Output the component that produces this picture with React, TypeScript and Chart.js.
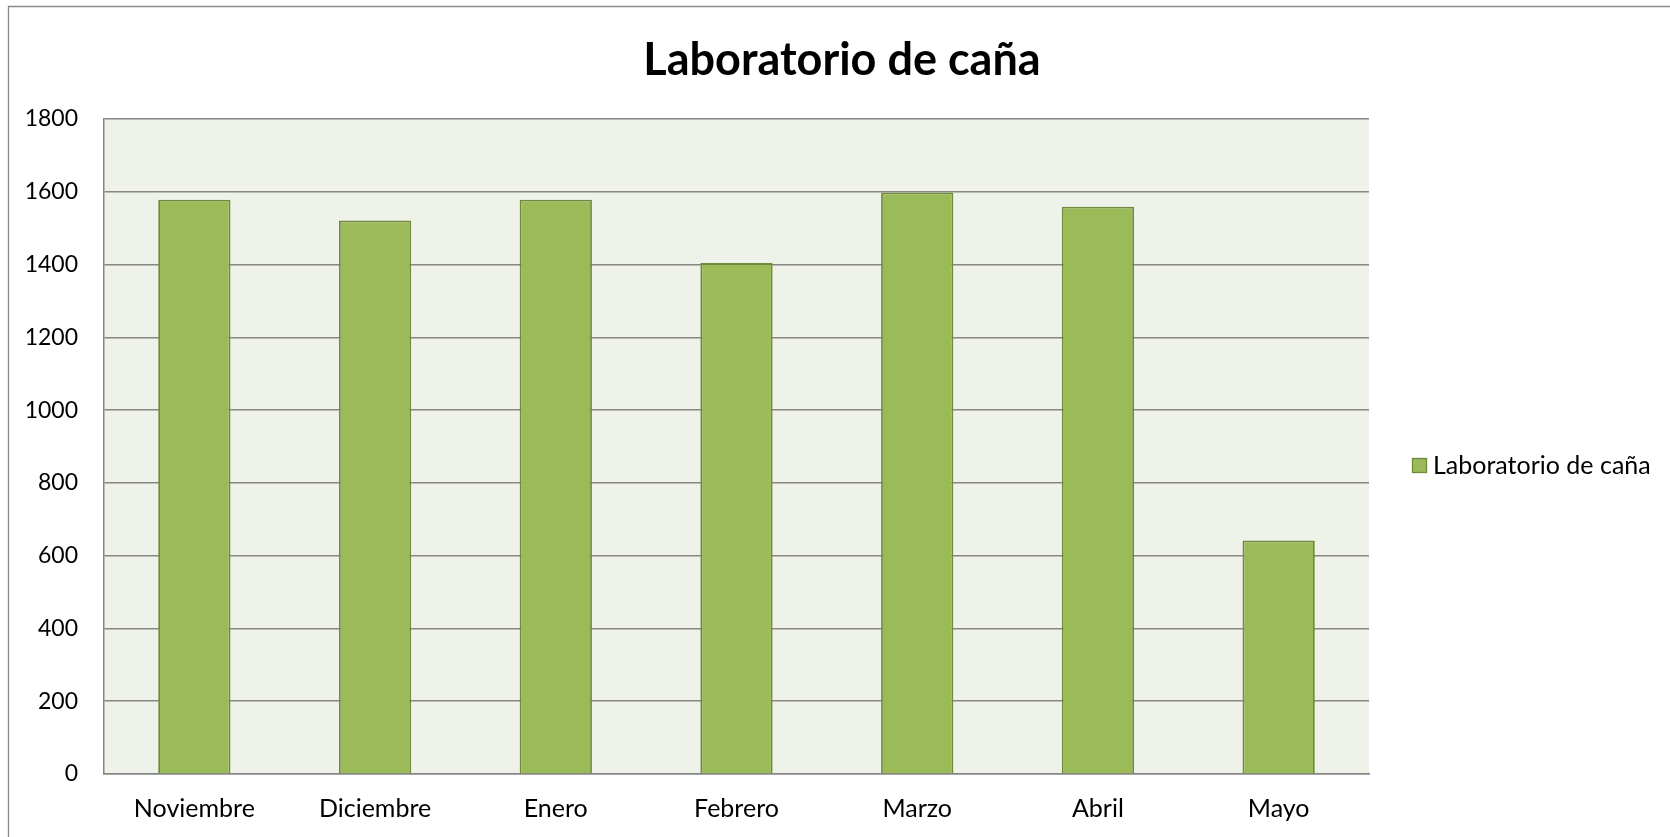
import React, { useEffect, useRef } from "react";
import { Chart, registerables } from "chart.js";

Chart.register(...registerables);

const TITLE = "Laboratorio de caña";
const SERIES_NAME = "Laboratorio de caña";
const categories = ["Noviembre", "Diciembre", "Enero", "Febrero", "Marzo", "Abril", "Mayo"];
const values = [1578, 1521, 1578, 1404, 1598, 1559, 642];
const yMin = 0;
const yMax = 1800;
const yStep = 200;

const FONT = "Lato, 'Noto Sans', sans-serif";
const BAR_FILL = "#9bbb59";
const BAR_BORDER = "#6f8a3c";
const PLOT_BG = "#eff2e9";
const GRID = "#868686";

const W = 1670;
const H = 837;
const PLOT_LEFT = 104;
const PLOT_TOP = 119;
const PLOT_RIGHT = 1369;
const PLOT_BOTTOM = 774;

const decorPlugin = {
  id: "decor",
  beforeDraw(chart: any) {
    const ctx = chart.ctx;
    const a = chart.chartArea;
    ctx.save();
    ctx.fillStyle = "#ffffff";
    ctx.fillRect(0, 0, chart.width, chart.height);
    ctx.strokeStyle = "#8a8a8a";
    ctx.lineWidth = 1.3;
    ctx.beginPath();
    ctx.moveTo(8.5, chart.height + 10);
    ctx.lineTo(8.5, 6.5);
    ctx.lineTo(chart.width + 10, 6.5);
    ctx.stroke();
    ctx.fillStyle = PLOT_BG;
    ctx.fillRect(a.left, a.top, a.right - a.left, a.bottom - a.top);
    ctx.restore();
  },
  afterDraw(chart: any) {
    const ctx = chart.ctx;
    ctx.save();
    ctx.fillStyle = "#000000";
    ctx.font = `bold 45px ${FONT}`;
    ctx.textAlign = "center";
    ctx.textBaseline = "middle";
    ctx.fillText(TITLE, 842, 60);
    const bx = 1412;
    const by = 458;
    ctx.fillStyle = BAR_FILL;
    ctx.fillRect(bx, by, 15, 15);
    ctx.strokeStyle = BAR_BORDER;
    ctx.lineWidth = 1.3;
    ctx.strokeRect(bx + 0.5, by + 0.5, 14, 14);
    ctx.fillStyle = "#000000";
    ctx.font = `25px ${FONT}`;
    ctx.textAlign = "left";
    ctx.textBaseline = "middle";
    ctx.fillText(SERIES_NAME, 1433, 466);
    ctx.restore();
  },
};

export default function App() {
  const ref = useRef<HTMLCanvasElement | null>(null);
  useEffect(() => {
    if (!ref.current) return;
    const chart = new Chart(ref.current, {
      type: "bar",
      data: {
        labels: categories,
        datasets: [
          {
            label: SERIES_NAME,
            data: values,
            backgroundColor: BAR_FILL,
            borderColor: BAR_BORDER,
            borderWidth: 1.8,
            barPercentage: 0.4,
            categoryPercentage: 1,
          },
        ],
      },
      options: {
        animation: false,
        responsive: false,
        devicePixelRatio: 1,
        layout: {
          padding: { left: 0, top: PLOT_TOP, right: W - PLOT_RIGHT, bottom: 0 },
        },
        plugins: {
          legend: { display: false },
          title: { display: false },
          tooltip: { enabled: false },
        },
        scales: {
          x: {
            grid: { display: false, drawTicks: false },
            border: { display: true, color: GRID, width: 1.5 },
            ticks: {
              color: "#000000",
              font: { family: FONT, size: 25 },
              padding: 20,
              maxRotation: 0,
              autoSkip: false,
            },
            afterFit(scale: any) {
              scale.height = H - PLOT_BOTTOM;
            },
          },
          y: {
            min: yMin,
            max: yMax,
            grid: { color: GRID, lineWidth: 1.5, drawTicks: false },
            border: { display: true, color: GRID, width: 1.5 },
            ticks: {
              stepSize: yStep,
              color: "#000000",
              font: { family: FONT, size: 23 },
              padding: 26,
              callback: (v: any) => String(v),
            },
            afterFit(scale: any) {
              scale.width = PLOT_LEFT;
            },
          },
        },
      },
      plugins: [decorPlugin],
    });
    return () => chart.destroy();
  }, []);
  return (
    <div style={{ position: "fixed", left: 0, top: 0, width: W, height: H, overflow: "hidden", background: "#fff" }}>
      <canvas ref={ref} width={W} height={H} style={{ width: W, height: H, display: "block" }} />
    </div>
  );
}
